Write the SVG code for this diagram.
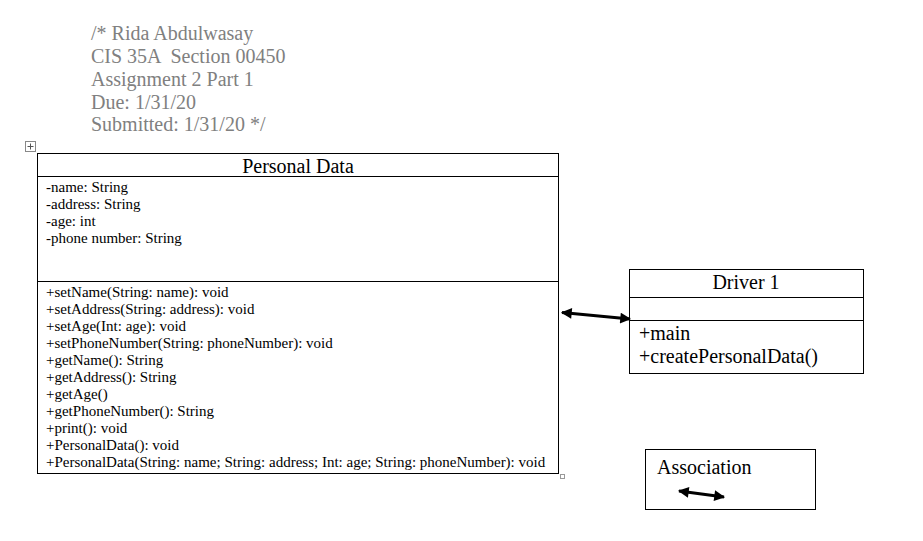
<svg xmlns="http://www.w3.org/2000/svg" width="923" height="541" viewBox="0 0 923 541">
<style>
.box{fill:#fff;stroke:#000;stroke-width:1}
.ln{stroke:#000;stroke-width:1}
.t{font-family:"Liberation Serif","Times New Roman",serif;fill:#000}
.s{font-size:15px}
.m{font-size:20px}
.hdr{font-family:"Liberation Serif","Times New Roman",serif;font-size:20px;fill:#808080;white-space:pre}
.arr{stroke:#000;stroke-width:3;fill:none}
</style>
<defs>
<marker id="ah" viewBox="0 0 10 10" refX="9" refY="5" markerWidth="4.2" markerHeight="3.6" orient="auto-start-reverse" markerUnits="strokeWidth">
<path d="M0,0 L10,5 L0,10 z" fill="#000"/>
</marker>
</defs>
<rect width="923" height="541" fill="#fff"/>
<g id="header">
<text class="hdr" x="91" y="40">/* Rida Abdulwasay</text>
<text class="hdr" x="91" y="63" xml:space="preserve">CIS 35A  Section 00450</text>
<text class="hdr" x="91" y="86">Assignment 2 Part 1</text>
<text class="hdr" x="91" y="109">Due: 1/31/20</text>
<text class="hdr" x="91" y="131">Submitted: 1/31/20 */</text>
</g>
<g id="handles">
<rect x="25.5" y="141.5" width="10" height="10" fill="#fff" stroke="#888" stroke-width="1"/>
<path d="M30.5,143.5 V149.5 M27.5,146.5 H33.5" stroke="#555" stroke-width="1"/>
<rect x="560.5" y="474.5" width="4" height="4" fill="#fff" stroke="#999" stroke-width="1"/>
</g>
<g id="personal-data">
<rect class="box" x="37.5" y="153.5" width="521" height="320"/>
<line class="ln" x1="37.5" y1="176.5" x2="558.5" y2="176.5"/>
<line class="ln" x1="37.5" y1="281.5" x2="558.5" y2="281.5"/>
<text class="t m" x="298" y="173" text-anchor="middle">Personal Data</text>
<text class="t s" x="46" y="192">-name: String</text>
<text class="t s" x="46" y="209">-address: String</text>
<text class="t s" x="46" y="226">-age: int</text>
<text class="t s" x="46" y="243">-phone number: String</text>
<text class="t s" x="46" y="297">+setName(String: name): void</text>
<text class="t s" x="46" y="314">+setAddress(String: address): void</text>
<text class="t s" x="46" y="331">+setAge(Int: age): void</text>
<text class="t s" x="46" y="348">+setPhoneNumber(String: phoneNumber): void</text>
<text class="t s" x="46" y="365">+getName(): String</text>
<text class="t s" x="46" y="382">+getAddress(): String</text>
<text class="t s" x="46" y="399">+getAge()</text>
<text class="t s" x="46" y="416">+getPhoneNumber(): String</text>
<text class="t s" x="46" y="433">+print(): void</text>
<text class="t s" x="46" y="450">+PersonalData(): void</text>
<text class="t s" x="46" y="467">+PersonalData(String: name; String: address; Int: age; String: phoneNumber): void</text>
</g>
<g id="driver-1">
<rect class="box" x="629.5" y="269.5" width="234" height="104"/>
<line class="ln" x1="629.5" y1="297.5" x2="863.5" y2="297.5"/>
<line class="ln" x1="629.5" y1="320.5" x2="863.5" y2="320.5"/>
<text class="t m" x="746" y="289" text-anchor="middle">Driver 1</text>
<text class="t m" x="639" y="340">+main</text>
<text class="t m" x="639" y="363">+createPersonalData()</text>
</g>
<g id="legend">
<rect class="box" x="645.5" y="449.5" width="170" height="60"/>
<text class="t m" x="657" y="474">Association</text>
<line class="arr" x1="679" y1="491" x2="724" y2="497" marker-start="url(#ah)" marker-end="url(#ah)"/>
</g>
<g id="connectors">
<line class="arr" x1="562" y1="312.5" x2="630" y2="319" marker-start="url(#ah)" marker-end="url(#ah)"/>
</g>
</svg>
